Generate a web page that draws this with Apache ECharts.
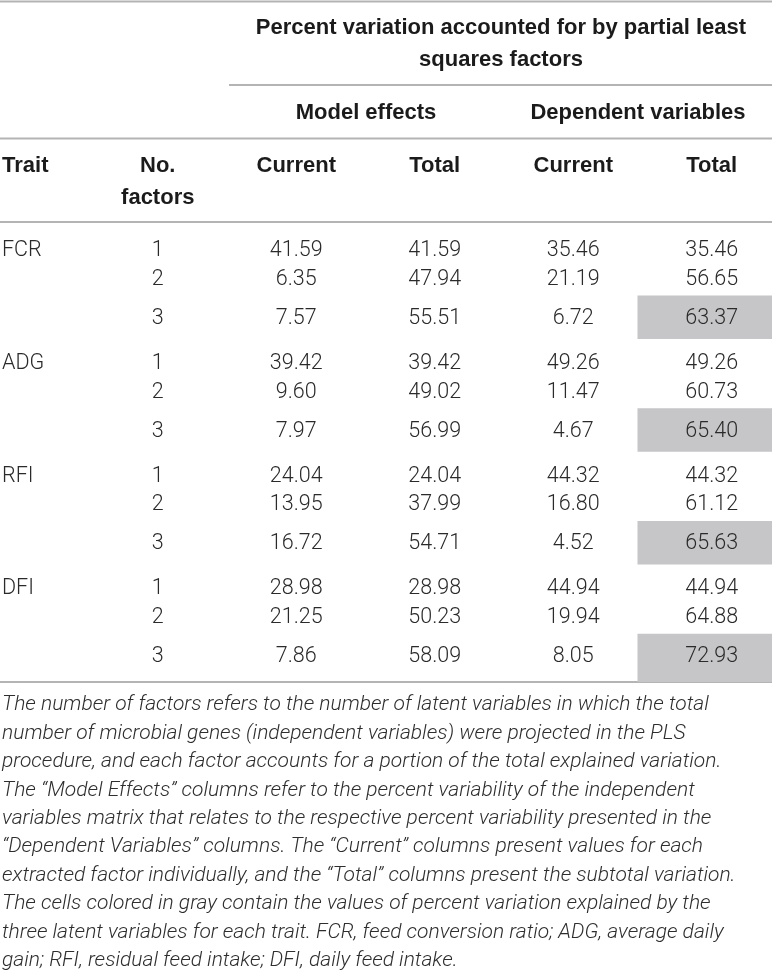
<!DOCTYPE html>
<html lang="en">

<head>
    <meta charset="UTF-8">
    <title>PLS factors</title>
    <script src="https://cdn.jsdelivr.net/npm/echarts@6/dist/echarts.min.js"></script>
    <style>
        html, body { margin: 0; padding: 0; background: #fff; }
        #main { width: 772px; height: 972px; }
    </style>
</head>

<body>
    <div id="main"></div>

    <script>
        // table data
        var traits = ['FCR', 'ADG', 'RFI', 'DFI'];
        var columns = ['No.\nfactors', 'Current', 'Total', 'Current', 'Total'];
        var factors = [1, 2, 3];
        var modelCurrent = [[41.59, 6.35, 7.57], [39.42, 9.60, 7.97], [24.04, 13.95, 16.72], [28.98, 21.25, 7.86]];
        var modelTotal = [[41.59, 47.94, 55.51], [39.42, 49.02, 56.99], [24.04, 37.99, 54.71], [28.98, 50.23, 58.09]];
        var depCurrent = [[35.46, 21.19, 6.72], [49.26, 11.47, 4.67], [44.32, 16.80, 4.52], [44.94, 19.94, 8.05]];
        var depTotal = [[35.46, 56.65, 63.37], [49.26, 60.73, 65.40], [44.32, 61.12, 65.63], [44.94, 64.88, 72.93]];
        // gray cells: [trait, column, factor]
        var shaded = [['FCR', 4, 3], ['ADG', 4, 3], ['RFI', 4, 3], ['DFI', 4, 3]];

        var note = 'The number of factors refers to the number of latent variables in which the total\n' +
            'number of microbial genes (independent variables) were projected in the PLS\n' +
            'procedure, and each factor accounts for a portion of the total explained variation.\n' +
            'The \u201cModel Effects\u201d columns refer to the percent variability of the independent\n' +
            'variables matrix that relates to the respective percent variability presented in the\n' +
            '\u201cDependent Variables\u201d columns. The \u201cCurrent\u201d columns present values for each\n' +
            'extracted factor individually, and the \u201cTotal\u201d columns present the subtotal variation.\n' +
            'The cells colored in gray contain the values of percent variation explained by the\n' +
            'three latent variables for each trait. FCR, feed conversion ratio; ADG, average daily\n' +
            'gain; RFI, residual feed intake; DFI, daily feed intake.';

        var FONT = 'Roboto, "Liberation Sans", sans-serif';
        var HEAD = '"Liberation Sans", Arial, sans-serif';
        var LINE = '#b4b4b4';
        var GRAY = '#c6c6c8';
        var INK = '#2a2a2a';
        var HEAD_INK = '#1b1b1b';

        // flatten into cells [col, traitIndex, row]
        var cells = [];
        var cellText = [];
        var cellShade = [];
        traits.forEach(function (t, g) {
            factors.forEach(function (f, r) {
                var vals = [String(f), modelCurrent[g][r].toFixed(2), modelTotal[g][r].toFixed(2),
                    depCurrent[g][r].toFixed(2), depTotal[g][r].toFixed(2)];
                vals.forEach(function (v, c) {
                    cells.push([c, g, r]);
                    cellText.push(v);
                    cellShade.push(shaded.some(function (s) {
                        return s[0] === t && s[1] === c && s[2] === f;
                    }));
                });
            });
        });

        // row positions inside one trait band (fraction of band height)
        var rowPos = [0.25, 0.505, 0.852];

        var myChart = echarts.init(document.getElementById('main'));

        var option = {
            animation: false,
            backgroundColor: '#fff',
            textStyle: { fontFamily: FONT },
            title: {
                text: note,
                left: 2,
                top: 691,
                padding: 0,
                textStyle: {
                    fontFamily: FONT,
                    fontStyle: 'italic',
                    fontWeight: 300,
                    fontSize: 21,
                    lineHeight: 28.4,
                    color: '#2e2e2e'
                }
            },
            // last column runs a bit past the right edge, like the source table
            grid: { left: 88.5, width: 692.5, top: 222.5, height: 451, outerBoundsMode: 'none', containLabel: false },
            xAxis: {
                type: 'category',
                position: 'top',
                data: columns,
                axisLine: { show: false },
                axisTick: { show: false },
                splitLine: { show: false },
                axisLabel: {
                    interval: 0,
                    margin: 73,
                    verticalAlign: 'top',
                    fontFamily: HEAD,
                    fontWeight: 'bold',
                    fontSize: 22,
                    lineHeight: 32,
                    color: HEAD_INK
                }
            },
            yAxis: {
                type: 'category',
                inverse: true,
                data: traits,
                axisLine: { show: false },
                axisTick: { show: false },
                splitLine: { show: false },
                axisLabel: { show: false }
            },
            graphic: [
                { type: 'line', shape: { x1: 0, y1: 1.5, x2: 772, y2: 1.5 }, style: { stroke: LINE, lineWidth: 2 } },
                { type: 'line', shape: { x1: 229, y1: 85, x2: 772, y2: 85 }, style: { stroke: LINE, lineWidth: 2 } },
                { type: 'line', shape: { x1: 0, y1: 138.5, x2: 772, y2: 138.5 }, style: { stroke: LINE, lineWidth: 2 } },
                { type: 'line', shape: { x1: 0, y1: 222, x2: 772, y2: 222 }, style: { stroke: LINE, lineWidth: 2 } },
                { type: 'line', shape: { x1: 0, y1: 682, x2: 772, y2: 682 }, style: { stroke: LINE, lineWidth: 2 } },
                {
                    type: 'text',
                    style: {
                        x: 501, y: 28, text: 'Percent variation accounted for by partial least',
                        align: 'center', verticalAlign: 'middle',
                        font: 'bold 22px ' + HEAD, fill: HEAD_INK
                    }
                },
                {
                    type: 'text',
                    style: {
                        x: 501, y: 59.5, text: 'squares factors',
                        align: 'center', verticalAlign: 'middle',
                        font: 'bold 22px ' + HEAD, fill: HEAD_INK
                    }
                },
                {
                    type: 'text',
                    style: {
                        x: 366, y: 112.5, text: 'Model effects', align: 'center', verticalAlign: 'middle',
                        font: 'bold 22px ' + HEAD, fill: HEAD_INK
                    }
                },
                {
                    type: 'text',
                    style: {
                        x: 638, y: 112.5, text: 'Dependent variables', align: 'center', verticalAlign: 'middle',
                        font: 'bold 22px ' + HEAD, fill: HEAD_INK
                    }
                },
                {
                    type: 'text',
                    style: {
                        x: 2, y: 165.5, text: 'Trait', align: 'left', verticalAlign: 'middle',
                        font: 'bold 22px ' + HEAD, fill: HEAD_INK
                    }
                }
            ],
            series: [
                {
                    type: 'custom',
                    data: cells,
                    encode: { x: 0, y: 1 },
                    clip: false,
                    renderItem: function (params, api) {
                        var c = api.value(0), g = api.value(1), r = api.value(2);
                        var center = api.coord([c, g]);
                        var size = api.size([1, 1]);
                        var top = center[1] - size[1] / 2;
                        var y = top + rowPos[r] * size[1];
                        var kids = [];
                        if (cellShade[params.dataIndex]) {
                            var y0 = top + 0.647 * size[1];
                            var y1 = g === traits.length - 1 ? top + 1.075 * size[1] : top + 1.033 * size[1];
                            kids.push({
                                type: 'rect',
                                shape: { x: center[0] - size[0] / 2 - 5, y: y0, width: size[0] + 5, height: y1 - y0 },
                                style: { fill: GRAY }
                            });
                        }
                        if (c === 0 && r === 0) {
                            // trait name sits in the left margin, on the first factor line
                            kids.push({
                                type: 'text',
                                style: {
                                    x: center[0] - size[0] / 2 - 86.5, y: y, text: traits[g],
                                    align: 'left', verticalAlign: 'middle',
                                    font: '300 21.5px ' + FONT, fill: INK
                                }
                            });
                        }
                        kids.push({
                            type: 'text',
                            style: {
                                x: center[0], y: y, text: cellText[params.dataIndex],
                                align: 'center', verticalAlign: 'middle',
                                font: '300 21.5px ' + FONT, fill: INK
                            }
                        });
                        return { type: 'group', children: kids };
                    }
                }
            ]
        };

        myChart.setOption(option);
    </script>
</body>

</html>
